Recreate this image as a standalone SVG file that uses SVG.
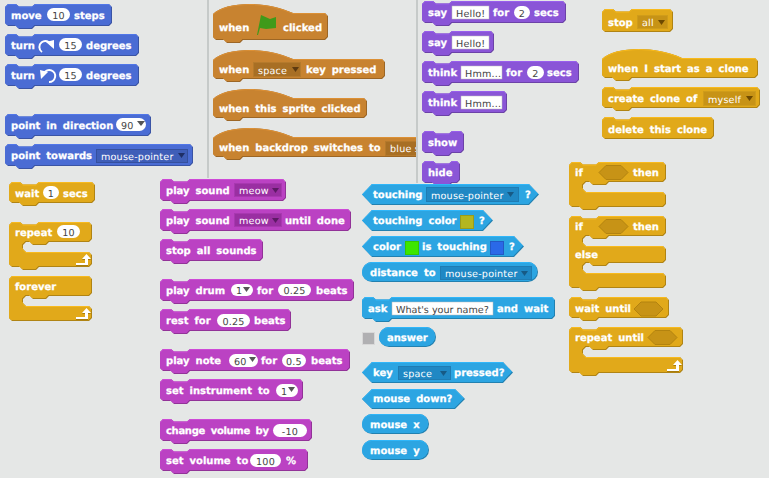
<svg xmlns="http://www.w3.org/2000/svg" width="769" height="478" viewBox="0 0 769 478">
<style>
.bl,.ev,.lo,.so,.co,.se{filter:url(#bev)}
.bl{fill:#4a6cd4}
.ev{fill:#c88330}
.lo{fill:#8a55d7}
.so{fill:#bb42c3}
.co{fill:#e1a91a}
.se{fill:#2ca5e2}
text{font-family:"DejaVu Sans",Verdana,sans-serif;text-rendering:geometricPrecision}
.t{font-size:10px;font-weight:bold;fill:#fff;stroke:#fff;stroke-width:.25;word-spacing:2.5px;transform:translateY(-.6px)}
.f{font-size:9.600px;fill:#444;letter-spacing:.2px}
.m{text-anchor:middle}
.d{font-size:9.600px;fill:#fff;letter-spacing:.2px}
.o{fill:#fff}
.w{fill:#fff;stroke:#bbb;stroke-width:.5}
.ddb{fill:#3f5eb8;stroke:#35509e;stroke-width:1}
.dde{fill:#a86f24;stroke:#b57a2c;stroke-width:1}
.dds{fill:#9a2fa2;stroke:#a838b0;stroke-width:1}
.ddc{fill:#c79316;stroke:#cf9c1a;stroke-width:1}
.ddn{fill:#2088c4;stroke:#1f7cb3;stroke-width:1}
.hx{fill:#c79316;stroke:#b3830f;stroke-width:1}
.tb{fill:#1f2f66}.te{fill:#5e3a10}.ts{fill:#5e1a66}.tc{fill:#6e4a00}.tn{fill:#175a85}.tg{fill:#555}
.la{fill:#fff;filter:drop-shadow(0 1px 0 #a87c0c)}
.sep{stroke:#c6cac9;stroke-width:2;fill:none}
</style>
<defs>
<filter id="bev" x="-5%" y="-10%" width="110%" height="120%" color-interpolation-filters="sRGB">
<feColorMatrix in="SourceGraphic" type="matrix" values=".78 0 0 0 0 0 .78 0 0 0 0 0 .78 0 0 0 0 0 1 0" result="dark"/>
<feColorMatrix in="SourceGraphic" type="matrix" values="1.1 0 0 0 0 0 1.1 0 0 0 0 0 1.1 0 0 0 0 0 1 0" result="light"/>
<feOffset in="light" dx="-1" dy="-1" result="l1"/>
<feComposite in="l1" in2="SourceGraphic" operator="in" result="L"/>
<feOffset in="SourceGraphic" dx="0" dy="1" result="m1"/>
<feComposite in="m1" in2="L" operator="in" result="M"/>
<feMerge><feMergeNode in="dark"/><feMergeNode in="L"/><feMergeNode in="M"/></feMerge>
</filter>
<clipPath id="cl"><rect x="0" y="0" width="416" height="478"/></clipPath>
<path id="loop" d="M0 9H9V5H6L10.500 0L15 5H12V11H0Z"/>
</defs>
<rect width="769" height="478" fill="#e5e7e6"/>
<path class="sep" d="M208 0V178M417 0V183"/>

<g id="move"><path class="bl" d="M5 7l3-3h8l3 2.500h13l3-2.500H109l3 3V23l-3 3H35l-3 3h-13l-3-3h-8l-3-3z"/><text class="t" x="11" y="20">move</text><rect class="o" x="47" y="8" width="23" height="13" rx="6.500"/><text class="f m" x="58.500" y="19">10</text><text class="t" x="74" y="20">steps</text></g>
<g id="turn-cw"><path class="bl" d="M5 37l3-3h8l3 2.500h13l3-2.500H136l3 3V53l-3 3H35l-3 3h-13l-3-3h-8l-3-3z"/><text class="t" x="11" y="50">turn</text><path d="M42 52a6 6 0 1 1 9-7" fill="none" stroke="#fff" stroke-width="2"/><polygon points="46,42 54,40 54,49" fill="#fff"/><rect class="o" x="59" y="38" width="23" height="13" rx="6.500"/><text class="f m" x="70.500" y="49">15</text><text class="t" x="86" y="50">degrees</text></g>
<g id="turn-ccw"><path class="bl" d="M5 67l3-3h8l3 2.500h13l3-2.500H136l3 3V83l-3 3H35l-3 3h-13l-3-3h-8l-3-3z"/><text class="t" x="11" y="80">turn</text><path d="M49 82a6 6 0 1 0 -5-9" fill="none" stroke="#fff" stroke-width="2"/><polygon points="40,70 48,72 41,79" fill="#fff"/><rect class="o" x="59" y="68" width="23" height="13" rx="6.500"/><text class="f m" x="70.500" y="79">15</text><text class="t" x="86" y="80">degrees</text></g>
<g id="point-dir"><path class="bl" d="M5 117l3-3h8l3 2.500h13l3-2.500H148l3 3V133l-3 3H35l-3 3h-13l-3-3h-8l-3-3z"/><text class="t" x="11" y="130">point in direction</text><rect class="o" x="116" y="118" width="30" height="13" rx="6.500"/><text class="f" x="121" y="129">90</text><polygon class="tg" points="137,121 145,121 141,126"/></g>
<g id="point-towards"><path class="bl" d="M5 147l3-3h8l3 2.500h13l3-2.500H190l3 3V163l-3 3H35l-3 3h-13l-3-3h-8l-3-3z"/><text class="t" x="11" y="160">point towards</text><rect class="ddb" x="96.500" y="149.500" width="91" height="13"/><text class="d" x="101" y="160">mouse-pointer</text><polygon class="tb" points="178,153 185,153 181.500,158"/></g>

<g id="hats" clip-path="url(#cl)">
<g id="when-flag"><path class="ev" d="M213 14C225 2 265 0 293 13H325l3 3V37l-3 3H243l-3 3h-13l-3-3h-8l-3-3z"/><text class="t" x="219" y="32">when</text><path d="M257 35L261 15L270 19L276 17V28L266 29L260 28L258 35Z" fill="#3f9a1a"/><text class="t" x="283" y="32">clicked</text></g>
<g id="when-key"><path class="ev" d="M213 60C225 48 265 46 293 59H382l3 3V76l-3 3H243l-3 3h-13l-3-3h-8l-3-3z"/><text class="t" x="219" y="74">when</text><rect class="dde" x="253.500" y="62.500" width="47" height="14"/><text class="d" x="258" y="74">space</text><polygon class="te" points="292,67 299,67 295.500,72"/><text class="t" x="306" y="74">key pressed</text></g>
<g id="when-sprite"><path class="ev" d="M213 99C225 87 265 85 293 98H364l3 3V115l-3 3H243l-3 3h-13l-3-3h-8l-3-3z"/><text class="t" x="219" y="113">when this sprite clicked</text></g>
<g id="when-backdrop"><path class="ev" d="M213 138C225 126 265 124 293 137H440l3 3V154l-3 3H243l-3 3h-13l-3-3h-8l-3-3z"/><text class="t" x="219" y="152">when backdrop switches to</text><rect class="dde" x="385.500" y="141.500" width="60" height="14"/><text class="d" x="390" y="152">blue sky</text></g>
</g>

<g id="say-for"><path class="lo" d="M422 4l3-3h8l3 2.500h13l3-2.500H563l3 3V20l-3 3H452l-3 3h-13l-3-3h-8l-3-3z"/><text class="t" x="428" y="17">say</text><rect class="w" x="452" y="6" width="37" height="13"/><text class="f" x="456" y="17">Hello!</text><text class="t" x="493" y="17">for</text><rect class="o" x="514" y="6" width="16" height="13" rx="6.500"/><text class="f m" x="522" y="17">2</text><text class="t" x="534" y="17">secs</text></g>
<g id="say"><path class="lo" d="M422 34l3-3h8l3 2.500h13l3-2.500H491l3 3V50l-3 3H452l-3 3h-13l-3-3h-8l-3-3z"/><text class="t" x="428" y="47">say</text><rect class="w" x="452" y="36" width="37" height="13"/><text class="f" x="456" y="47">Hello!</text></g>
<g id="think-for"><path class="lo" d="M422 64l3-3h8l3 2.500h13l3-2.500H576l3 3V80l-3 3H452l-3 3h-13l-3-3h-8l-3-3z"/><text class="t" x="428" y="77">think</text><rect class="w" x="461" y="66" width="41" height="13"/><text class="f" x="465" y="77">Hmm...</text><text class="t" x="506" y="77">for</text><rect class="o" x="527" y="66" width="17" height="13" rx="6.500"/><text class="f m" x="535.500" y="77">2</text><text class="t" x="547" y="77">secs</text></g>
<g id="think"><path class="lo" d="M422 94l3-3h8l3 2.500h13l3-2.500H504l3 3V110l-3 3H452l-3 3h-13l-3-3h-8l-3-3z"/><text class="t" x="428" y="107">think</text><rect class="w" x="461" y="96" width="41" height="13"/><text class="f" x="465" y="107">Hmm...</text></g>
<g id="show"><path class="lo" d="M422 134l3-3h8l3 2.500h13l3-2.500H461l3 3V150l-3 3H452l-3 3h-13l-3-3h-8l-3-3z"/><text class="t" x="428" y="147">show</text></g>
<g id="hide"><path class="lo" d="M422 164l3-3h8l3 2.500h13l3-2.500H457l3 3V180l-3 3H452l-3 3h-13l-3-3h-8l-3-3z"/><text class="t" x="428" y="177">hide</text></g>

<g id="stop"><path class="co" d="M602 12l3-3h8l3 2.500h13l3-2.500H670l3 3V29l-3 3H605l-3-3z"/><text class="t" x="608" y="27">stop</text><rect class="ddc" x="637.500" y="15.500" width="30" height="13"/><text class="d" x="642" y="26">all</text><polygon class="tc" points="658,20 665,20 661.500,25"/></g>
<g id="start-clone"><path class="co" d="M602 59C614 47 654 45 682 58H755l3 3V75l-3 3H632l-3 3h-13l-3-3h-8l-3-3z"/><text class="t" x="608" y="73">when I start as a clone</text></g>
<g id="create-clone"><path class="co" d="M602 90l3-3h8l3 2.500h13l3-2.500H757l3 3V105l-3 3H632l-3 3h-13l-3-3h-8l-3-3z"/><text class="t" x="608" y="103">create clone of</text><rect class="ddc" x="703.500" y="91.500" width="52" height="14"/><text class="d" x="708" y="103">myself</text><polygon class="tc" points="746,96 753,96 749.500,101"/></g>
<g id="delete-clone"><path class="co" d="M602 120l3-3h8l3 2.500h13l3-2.500H711l3 3V136l-3 3H605l-3-3z"/><text class="t" x="608" y="134">delete this clone</text></g>

<g id="wait"><path class="co" d="M9 185l3-3h8l3 2.500h13l3-2.500H92l3 3V200l-3 3H39l-3 3h-13l-3-3h-8l-3-3z"/><text class="t" x="15" y="198">wait</text><rect class="o" x="43" y="186" width="16" height="13" rx="6.500"/><text class="f m" x="51" y="197">1</text><text class="t" x="63" y="198">secs</text></g>
<g id="repeat"><path class="co" d="M9 225l3-3h8l3 2.500h13l3-2.500H89l3 3V239l-3 3H49l-3 3h-13l-3-3h-4l-3 3V249l3 3H89l3 3V264l-3 3H39l-3 3h-13l-3-3h-8l-3-3z"/><text class="t" x="15" y="237">repeat</text><rect class="o" x="57" y="225" width="23" height="13" rx="6.500"/><text class="f m" x="68.500" y="236">10</text><use href="#loop" x="76" y="254" class="la"/></g>
<g id="forever"><path class="co" d="M9 279l3-3H89l3 3V293l-3 3H49l-3 3h-13l-3-3h-4l-3 3V303l3 3H89l3 3V318l-3 3H12l-3-3z"/><text class="t" x="15" y="291">forever</text><use href="#loop" x="76" y="308" class="la"/></g>

<g id="play-sound"><path class="so" d="M160 182l3-3h8l3 2.500h13l3-2.500H283l3 3V198l-3 3H190l-3 3h-13l-3-3h-8l-3-3z"/><text class="t" x="166" y="195">play sound</text><rect class="dds" x="234.500" y="183.500" width="47" height="13"/><text class="d" x="239" y="194">meow</text><polygon class="ts" points="272,188 279,188 275.500,193"/></g>
<g id="play-until"><path class="so" d="M160 212l3-3h8l3 2.500h13l3-2.500H348l3 3V228l-3 3H190l-3 3h-13l-3-3h-8l-3-3z"/><text class="t" x="166" y="225">play sound</text><rect class="dds" x="234.500" y="213.500" width="47" height="13"/><text class="d" x="239" y="224">meow</text><polygon class="ts" points="272,218 279,218 275.500,223"/><text class="t" x="285" y="225">until done</text></g>
<g id="stop-sounds"><path class="so" d="M160 242l3-3h8l3 2.500h13l3-2.500H260l3 3V258l-3 3H190l-3 3h-13l-3-3h-8l-3-3z"/><text class="t" x="166" y="255">stop all sounds</text></g>
<g id="play-drum"><path class="so" d="M160 282l3-3h8l3 2.500h13l3-2.500H351l3 3V298l-3 3H190l-3 3h-13l-3-3h-8l-3-3z"/><text class="t" x="166" y="295">play drum</text><rect class="o" x="231" y="284" width="22" height="12" rx="6"/><text class="f" x="236" y="294">1</text><polygon class="tg" points="243,287 250,287 246.500,292"/><text class="t" x="257" y="295">for</text><rect class="o" x="278" y="284" width="33" height="12" rx="6"/><text class="f m" x="294.500" y="294">0.25</text><text class="t" x="316" y="295">beats</text></g>
<g id="rest"><path class="so" d="M160 312l3-3h8l3 2.500h13l3-2.500H288l3 3V328l-3 3H190l-3 3h-13l-3-3h-8l-3-3z"/><text class="t" x="166" y="325">rest for</text><rect class="o" x="217" y="314" width="33" height="13" rx="6.500"/><text class="f m" x="233.500" y="325">0.25</text><text class="t" x="254" y="325">beats</text></g>
<g id="play-note"><path class="so" d="M160 352l3-3h8l3 2.500h13l3-2.500H347l3 3V368l-3 3H190l-3 3h-13l-3-3h-8l-3-3z"/><text class="t" x="166" y="365">play note</text><rect class="o" x="229" y="354" width="29" height="13" rx="6.500"/><text class="f" x="234" y="365">60</text><polygon class="tg" points="249,357 256,357 252.500,362"/><text class="t" x="261" y="365">for</text><rect class="o" x="282" y="354" width="24" height="13" rx="6.500"/><text class="f m" x="294" y="365">0.5</text><text class="t" x="311" y="365">beats</text></g>
<g id="set-instrument"><path class="so" d="M160 382l3-3h8l3 2.500h13l3-2.500H300l3 3V398l-3 3H190l-3 3h-13l-3-3h-8l-3-3z"/><text class="t" x="166" y="395">set instrument to</text><rect class="o" x="276" y="384" width="22" height="13" rx="6.500"/><text class="f" x="281" y="395">1</text><polygon class="tg" points="288,387 295,387 291.500,392"/></g>
<g id="change-volume"><path class="so" d="M160 422l3-3h8l3 2.500h13l3-2.500H309l3 3V438l-3 3H190l-3 3h-13l-3-3h-8l-3-3z"/><text class="t" x="166" y="435" textLength="103">change volume by</text><rect class="o" x="273" y="424" width="34" height="13" rx="6.500"/><text class="f m" x="290" y="435">-10</text></g>
<g id="set-volume"><path class="so" d="M160 452l3-3h8l3 2.500h13l3-2.500H305l3 3V468l-3 3H190l-3 3h-13l-3-3h-8l-3-3z"/><text class="t" x="166" y="465">set volume to</text><rect class="o" x="250" y="454" width="31" height="13" rx="6.500"/><text class="f m" x="265.500" y="465">100</text><text class="t" x="286" y="465">%</text></g>

<g id="touching"><polygon class="se" points="362,194.500 372,184 529,184 539,194.500 529,205 372,205"/><text class="t" x="373" y="199">touching</text><rect class="ddn" x="426.500" y="187.500" width="92" height="14"/><text class="d" x="431" y="199">mouse-pointer</text><polygon class="tn" points="507,192 514,192 510.500,197"/><text class="t" x="525" y="199">?</text></g>
<g id="touching-color"><polygon class="se" points="362,220.500 372,210 483,210 493,220.500 483,231 372,231"/><text class="t" x="373" y="225">touching color</text><rect x="460.500" y="215.500" width="13" height="13" fill="#b4b61f" stroke="#9a9c1a"/><text class="t" x="479" y="225">?</text></g>
<g id="color-touching"><polygon class="se" points="362,246.500 372,236 514,236 524,246.500 514,257 372,257"/><text class="t" x="373" y="251">color</text><rect x="405.500" y="241.500" width="13" height="13" fill="#3de600" stroke="#36c800"/><text class="t" x="422" y="251">is touching</text><rect x="490.500" y="241.500" width="13" height="13" fill="#2a69e8" stroke="#2459c4"/><text class="t" x="509" y="251">?</text></g>
<g id="distance"><rect class="se" x="362" y="262" width="176" height="20" rx="10"/><text class="t" x="370" y="277">distance to</text><rect class="ddn" x="440.500" y="266.500" width="91" height="13"/><text class="d" x="445" y="277">mouse-pointer</text><polygon class="tn" points="521,271 528,271 524.500,276"/></g>
<g id="ask"><path class="se" d="M362 300l3-3h8l3 2.500h13l3-2.500H552l3 3V316l-3 3H392l-3 3h-13l-3-3h-8l-3-3z"/><text class="t" x="368" y="313">ask</text><rect class="w" x="392" y="302" width="101" height="13"/><text class="f" x="396" y="313" style="letter-spacing:0">What's your name?</text><text class="t" x="497" y="313">and wait</text></g>
<g id="answer-check"><rect x="362.500" y="332.500" width="12" height="12" fill="#b0b0b2" stroke="#d8d8d8"/></g>
<g id="answer"><rect class="se" x="379" y="327" width="57" height="20" rx="10"/><text class="t" x="387" y="342">answer</text></g>
<g id="key-pressed"><polygon class="se" points="362,372.500 372,362 503,362 513,372.500 503,383 372,383"/><text class="t" x="373" y="377">key</text><rect class="ddn" x="398.500" y="366.500" width="52" height="13"/><text class="d" x="403" y="377">space</text><polygon class="tn" points="440,371 447,371 443.500,376"/><text class="t" x="454" y="377">pressed?</text></g>
<g id="mouse-down"><polygon class="se" points="362,399 372,389 455,389 465,399 455,409 372,409"/><text class="t" x="373" y="403">mouse down?</text></g>
<g id="mouse-x"><rect class="se" x="362" y="414" width="67" height="20" rx="10"/><text class="t" x="370" y="429">mouse x</text></g>
<g id="mouse-y"><rect class="se" x="362" y="440" width="67" height="20" rx="10"/><text class="t" x="370" y="455">mouse y</text></g>

<g id="if"><path class="co" d="M569 165l3-3h8l3 2.500h13l3-2.500H663l3 3V179l-3 3H609l-3 3h-13l-3-3h-4l-3 3V189l3 3H663l3 3V204l-3 3H599l-3 3h-13l-3-3h-8l-3-3z"/><text class="t" x="575" y="177">if</text><polygon class="hx" points="599,172.500 606,165.500 621,165.500 628,172.500 621,179.500 606,179.500"/><text class="t" x="633" y="177">then</text></g>
<g id="if-else"><path class="co" d="M569 219l3-3h8l3 2.500h13l3-2.500H663l3 3V233l-3 3H609l-3 3h-13l-3-3h-4l-3 3V243l3 3H663l3 3V260l-3 3H609l-3 3h-13l-3-3h-4l-3 3V270l3 3H663l3 3V285l-3 3H599l-3 3h-13l-3-3h-8l-3-3z"/><text class="t" x="575" y="231">if</text><polygon class="hx" points="599,226.500 606,219.500 621,219.500 628,226.500 621,233.500 606,233.500"/><text class="t" x="633" y="231">then</text><text class="t" x="575" y="259">else</text></g>
<g id="wait-until"><path class="co" d="M569 300l3-3h8l3 2.500h13l3-2.500H666l3 3V315l-3 3H599l-3 3h-13l-3-3h-8l-3-3z"/><text class="t" x="575" y="313">wait until</text><polygon class="hx" points="634,309 641,302 656,302 663,309 656,316 641,316"/></g>
<g id="repeat-until"><path class="co" d="M569 330l3-3h8l3 2.500h13l3-2.500H680l3 3V344l-3 3H609l-3 3h-13l-3-3h-4l-3 3V354l3 3H680l3 3V370l-3 3H599l-3 3h-13l-3-3h-8l-3-3z"/><text class="t" x="575" y="342">repeat until</text><polygon class="hx" points="648,337.500 655,330.500 670,330.500 677,337.500 670,344.500 655,344.500"/><use href="#loop" x="667" y="360" class="la"/></g>
</svg>
